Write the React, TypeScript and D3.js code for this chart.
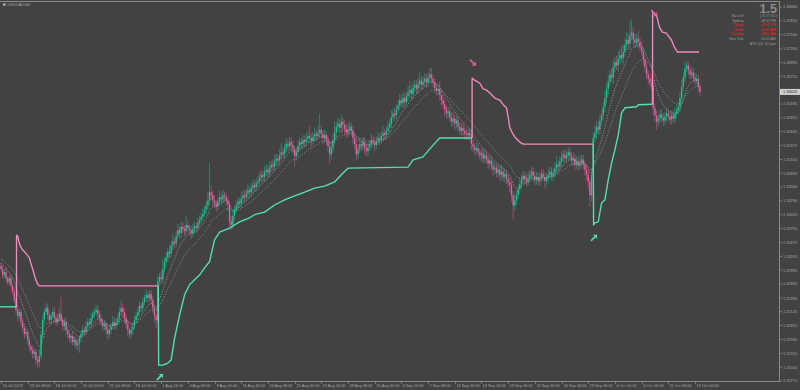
import React from "react";
import * as d3 from "d3";

const W = 800;
const H = 390;

// ---- price data (pips above 1.30000, H4 bars) ----
const firstOpen = 302;
const closes = [
  296, 284, 290, 278, 270, 278, 263, 251, 235, 216, 204, 212, 192, 181, 169, 173, 157, 145, 138, 130,
  134, 118, 114, 126, 167, 196, 212, 220, 206, 196, 204, 212, 200, 192, 200, 208, 196, 184, 192, 177,
  169, 161, 165, 153, 157, 147, 151, 161, 169, 177, 173, 184, 192, 188, 200, 208, 212, 216, 208, 200,
  192, 184, 188, 177, 169, 177, 184, 192, 186, 192, 200, 212, 220, 212, 200, 188, 177, 169, 177, 184,
  196, 204, 212, 224, 220, 231, 239, 245, 239, 247, 235, 220, 204, 196, 272, 280, 276, 296, 310, 318,
  330, 326, 342, 350, 346, 360, 372, 366, 378, 374, 370, 382, 376, 372, 366, 374, 380, 376, 386, 392,
  398, 404, 412, 420, 430, 446, 440, 430, 424, 418, 428, 436, 432, 440, 436, 430, 422, 390, 382, 400,
  412, 420, 428, 424, 434, 440, 436, 444, 450, 446, 454, 460, 456, 464, 468, 474, 480, 476, 486, 490,
  484, 494, 500, 496, 506, 512, 508, 518, 524, 520, 532, 540, 536, 544, 538, 530, 516, 524, 536, 544,
  540, 548, 544, 550, 556, 552, 546, 554, 560, 556, 562, 568, 560, 552, 558, 548, 536, 520, 532, 548,
  562, 574, 580, 572, 584, 578, 570, 562, 568, 574, 566, 552, 540, 520, 530, 540, 536, 544, 532, 526,
  534, 540, 548, 544, 538, 546, 552, 548, 556, 562, 558, 566, 572, 580, 592, 600, 596, 608, 616, 626,
  620, 630, 622, 634, 640, 646, 638, 650, 656, 648, 658, 664, 656, 662, 668, 660, 670, 676, 668, 660,
  650, 644, 648, 636, 626, 618, 608, 600, 604, 592, 584, 590, 580, 586, 574, 566, 572, 566, 560, 558,
  562, 556, 540, 534, 528, 532, 524, 518, 522, 512, 518, 510, 502, 508, 498, 490, 494, 484, 490, 480,
  486, 476, 482, 472, 466, 460, 440, 420, 430, 440, 452, 462, 470, 478, 472, 466, 474, 480, 486, 478,
  470, 476, 468, 474, 482, 476, 468, 474, 480, 486, 478, 484, 492, 500, 496, 506, 514, 520, 512, 518,
  524, 516, 508, 512, 500, 506, 498, 504, 510, 500, 490, 480, 466, 440, 480, 552, 562, 574, 568, 586,
  596, 612, 630, 648, 662, 676, 670, 690, 700, 694, 706, 714, 708, 720, 734, 744, 736, 752, 758, 744,
  738, 746, 740, 730, 722, 706, 690, 676, 668, 660, 654, 610, 596, 584, 590, 598, 592, 586, 594, 600,
  594, 588, 596, 590, 600, 606, 612, 630, 652, 670, 688, 694, 684, 676, 680, 670, 664, 668, 652, 642,
];
const wickUp = [
  6, 8, 5, 9, 4, 7, 6, 5, 8, 6, 9, 7, 5, 6, 8, 10, 5, 7, 6, 8,
  7, 5, 9, 14, 8, 12, 6, 10, 7, 9, 6, 8, 10, 7, 9, 12, 33, 6, 9, 7,
  6, 8, 5, 9, 7, 6, 8, 5, 7, 9, 6, 10, 8, 7, 9, 6, 8, 10, 9, 7,
  8, 6, 9, 5, 7, 8, 6, 12, 9, 7, 8, 10, 15, 8, 6, 9, 7, 5, 8, 6,
  9, 7, 8, 10, 6, 9, 7, 12, 8, 6, 9, 7, 5, 6, 10, 8, 12, 20, 9, 11,
  8, 12, 9, 14, 7, 10, 12, 8, 10, 9, 7, 18, 8, 6, 9, 10, 8, 7, 10, 9,
  8, 10, 7, 9, 16, 57, 12, 8, 10, 7, 9, 14, 8, 10, 7, 9, 8, 6, 10, 12,
  8, 10, 9, 7, 12, 8, 10, 9, 14, 8, 10, 12, 9, 8, 10, 12, 9, 8, 11, 10,
  9, 12, 8, 10, 14, 9, 8, 12, 18, 9, 10, 12, 8, 10, 9, 8, 7, 10, 12, 9,
  8, 10, 9, 12, 8, 20, 9, 10, 12, 8, 14, 32, 9, 8, 10, 7, 9, 8, 12, 14,
  22, 10, 12, 9, 14, 8, 10, 9, 12, 10, 8, 9, 7, 10, 9, 12, 8, 10, 9, 8,
  9, 10, 12, 8, 9, 10, 12, 9, 10, 14, 8, 10, 12, 10, 14, 9, 12, 10, 9, 12,
  10, 12, 9, 10, 14, 18, 9, 12, 10, 9, 12, 16, 9, 10, 12, 9, 10, 12, 14, 9,
  8, 10, 9, 15, 8, 10, 9, 7, 10, 8, 9, 12, 8, 10, 9, 8, 10, 9, 8, 10,
  9, 8, 12, 9, 8, 10, 9, 8, 10, 9, 12, 8, 9, 10, 8, 9, 10, 8, 12, 9,
  14, 9, 10, 8, 9, 10, 8, 9, 12, 10, 8, 12, 10, 9, 8, 10, 12, 9, 10, 8,
  9, 10, 8, 12, 9, 10, 8, 9, 12, 10, 9, 10, 12, 16, 9, 10, 12, 9, 10, 8,
  10, 9, 8, 12, 9, 10, 8, 14, 9, 10, 8, 9, 10, 8, 12, 10, 14, 12, 10, 12,
  10, 12, 14, 10, 12, 9, 12, 14, 10, 12, 16, 12, 20, 14, 12, 16, 12, 27, 25, 10,
  12, 10, 14, 9, 10, 8, 9, 10, 8, 9, 10, 8, 9, 10, 8, 9, 10, 8, 9, 10,
  8, 10, 9, 8, 10, 9, 10, 12, 14, 10, 12, 9, 8, 10, 9, 8, 10, 9, 8, 7,
];
const wickDn = [
  5, 7, 6, 8, 5, 6, 9, 7, 6, 8, 10, 6, 8, 7, 9, 6, 8, 10, 7, 9,
  8, 10, 12, 9, 6, 8, 7, 6, 9, 7, 8, 6, 9, 7, 8, 6, 7, 9, 8, 10,
  9, 8, 10, 7, 9, 8, 10, 19, 8, 7, 9, 6, 8, 7, 6, 8, 7, 6, 9, 8,
  7, 9, 8, 10, 12, 8, 7, 6, 9, 8, 7, 6, 8, 9, 10, 8, 12, 9, 7, 8,
  6, 8, 7, 6, 9, 7, 6, 8, 9, 7, 8, 10, 12, 15, 8, 9, 10, 8, 7, 9,
  8, 10, 7, 9, 10, 8, 7, 10, 9, 8, 10, 7, 9, 10, 12, 8, 9, 10, 8, 7,
  8, 9, 7, 10, 8, 9, 10, 12, 9, 10, 8, 9, 10, 8, 9, 10, 12, 18, 10, 8,
  9, 8, 10, 9, 8, 10, 9, 8, 10, 9, 8, 10, 9, 8, 10, 9, 8, 10, 9, 8,
  10, 9, 8, 10, 9, 8, 10, 9, 8, 10, 9, 8, 10, 9, 12, 10, 20, 9, 8, 10,
  9, 8, 10, 9, 8, 10, 12, 8, 9, 10, 8, 9, 10, 12, 9, 10, 12, 18, 10, 9,
  8, 9, 10, 8, 9, 10, 12, 9, 8, 10, 9, 12, 10, 11, 9, 8, 10, 9, 12, 10,
  9, 8, 10, 9, 12, 8, 9, 10, 8, 9, 10, 8, 9, 10, 8, 9, 10, 8, 9, 10,
  8, 9, 10, 8, 9, 10, 12, 9, 8, 10, 9, 8, 10, 9, 8, 10, 9, 8, 10, 9,
  10, 9, 8, 12, 10, 9, 14, 10, 9, 8, 10, 9, 12, 10, 9, 8, 10, 9, 12, 10,
  9, 10, 12, 9, 10, 8, 9, 10, 12, 9, 10, 8, 12, 9, 10, 12, 9, 10, 8, 12,
  10, 9, 12, 10, 9, 14, 12, 28, 10, 9, 8, 10, 9, 8, 10, 9, 8, 10, 9, 12,
  10, 9, 8, 10, 9, 8, 14, 9, 10, 8, 9, 10, 8, 9, 10, 8, 9, 10, 8, 9,
  10, 8, 9, 10, 12, 9, 10, 8, 9, 10, 12, 10, 14, 23, 12, 10, 9, 12, 10, 9,
  10, 12, 9, 10, 12, 10, 9, 12, 10, 9, 12, 10, 9, 12, 10, 9, 12, 10, 9, 12,
  10, 9, 12, 10, 9, 12, 10, 9, 12, 10, 9, 14, 12, 16, 10, 9, 8, 10, 9, 10,
  8, 9, 10, 8, 9, 10, 8, 9, 10, 8, 9, 8, 10, 9, 8, 10, 9, 8, 9, 8,
];

// moving averages (dotted), seeds read at the left edge
const maFastPeriod = 10;
const maSlowPeriod = 21;
const maFastSeed = 310;
const maSlowSeed = 318;

// trailing stop lines: [bar index, pips]
const greenSegments: number[][][] = [
  [[-0.6, 222], [9.3, 222]],
  [[94.3, 263], [94.5, 108], [97, 108], [100, 112], [102, 118], [104, 160], [107, 205], [110, 245], [113, 265],
   [119, 284], [122, 298], [125, 310], [128, 353], [131, 368], [137, 376], [143, 388], [149, 396], [152, 402],
   [158, 407], [164, 421], [170, 431], [176, 439], [182, 446], [188, 454], [194, 458], [200, 466], [204, 480],
   [208, 493], [244, 495], [247, 509], [253, 515], [259, 538], [263, 552], [282.4, 552]],
  [[355, 540], [355.2, 382], [356, 386], [358, 388], [360, 425], [362, 431], [364, 470], [366, 503], [368, 529],
   [370, 558], [372, 601], [374, 611], [381, 613], [382, 617], [390.5, 618]],
];
const pinkSegments: number[][][] = [
  [[9.3, 222], [9.3, 362], [10, 360], [11, 346], [12, 338], [13, 333], [14, 330], [16, 322], [17, 318], [18, 306],
   [19, 296], [20, 284], [21, 274], [22, 266], [23, 263], [94.3, 263]],
  [[282.4, 552], [282.4, 669], [284, 665], [287, 659], [289, 648], [291, 646], [293, 640], [296, 630], [299, 626],
   [301, 617], [303, 611], [304, 593], [305, 572], [306.5, 562], [308, 554], [311, 544], [313, 540], [355, 540]],
  [[390.5, 618], [390.6, 798], [393, 792], [394.6, 769], [396.4, 759], [398.8, 757], [401.8, 744], [403.6, 730],
   [405.4, 720], [418.4, 720]],
];
const upArrows = [[95.3, 85], [355.5, 357]];
const downArrows = [[282.9, 699], [391.5, 796]];

// axis labels
const priceTicks = [
  "1.38080", "1.37810", "1.37540", "1.37260", "1.36995", "1.36725", "1.36455", "1.36185", "1.35915", "1.35645",
  "1.35375", "1.35100", "1.34830", "1.34560", "1.34290", "1.34020", "1.33750", "1.33475", "1.33205", "1.32935",
  "1.32665", "1.32390", "1.32125", "1.31855", "1.31580", "1.31310", "1.31040", "1.30770",
];
const timeLabels = [
  "10 Jul 2023", "13 Jul 08:00", "18 Jul 00:00", "20 Jul 16:00", "25 Jul 08:00", "28 Jul 00:00", "1 Aug 16:00",
  "4 Aug 08:00", "9 Aug 00:00", "11 Aug 16:00", "16 Aug 08:00", "21 Aug 00:00", "23 Aug 16:00", "28 Aug 08:00",
  "31 Aug 00:00", "4 Sep 16:00", "7 Sep 08:00", "12 Sep 00:00", "14 Sep 16:00", "19 Sep 08:00", "22 Sep 00:00",
  "26 Sep 16:00", "29 Sep 08:00", "4 Oct 00:00", "6 Oct 16:00", "11 Oct 08:00", "16 Oct 00:00",
];
const barsPerTimeLabel = 16;

const chartTitle = "USDCAD,H4";
const bigNumber = "1.5";
const infoLabels = ["Bar Left", "Sydney", "* Tokyo", "* Berlin", "* London", "New York"];
const infoValues = ["[ 01:57:32 ]", "08:02 PM", "04:02 PM", "09:02 AM", "08:02 AM", "03:02 AM"];
const infoActive = [false, false, true, true, true, false];
const atrText = "ATR (20): 62 pips";

// ---- styling ----
const BG = "#424242";
const AXIS = "#8a8a8a";
const TXT = "#a8a8a8";
const BULL = "#22c495";
const BEAR = "#e5609f";
const GREEN_LINE = "#52e2b6";
const PINK_LINE = "#f58bbe";
const FONT = "Liberation Sans, Arial, sans-serif";

const toPrice = (p: number) => 1.3 + p / 10000;

export default function App() {
  const plotRight = 779;
  const plotBottom = 381;
  const y = d3.scaleLinear().domain([1.3077, 1.3808]).range([plotBottom, 7]);
  const x = d3.scaleLinear().domain([0, 416]).range([1, 695]);

  const candles = closes.map((c, i) => {
    const o = i === 0 ? firstOpen : closes[i - 1];
    const hi = Math.max(o, c) + wickUp[i];
    const lo = Math.min(o, c) - wickDn[i];
    return { i, o, c, hi, lo };
  });

  const ema = (period: number, seed: number) => {
    const k = 2 / (period + 1);
    let v = seed;
    return closes.map((c, i) => {
      v = v + k * (c - v);
      return [i, v];
    });
  };
  const maFast = ema(maFastPeriod, maFastSeed);
  const maSlow = ema(maSlowPeriod, maSlowSeed);

  const line = d3
    .line<number[]>()
    .x((d) => x(d[0]))
    .y((d) => y(toPrice(d[1])));

  const last = closes[closes.length - 1];
  const lastY = y(toPrice(last));

  return (
    <div style={{ position: "fixed", left: 0, top: 0 }}>
      <svg width={W} height={H} style={{ display: "block", background: BG }}>
        <defs>
          <clipPath id="plot">
            <rect x={0} y={2} width={plotRight} height={plotBottom - 2} />
          </clipPath>
        </defs>
        <rect x={0} y={0} width={W} height={H} fill={BG} />

        <g clipPath="url(#plot)">
          {/* candles */}
          {candles.map((d) => {
            const cx = x(d.i);
            const bull = d.c >= d.o;
            const col = bull ? BULL : BEAR;
            const yTop = y(toPrice(Math.max(d.o, d.c)));
            const yBot = y(toPrice(Math.min(d.o, d.c)));
            return (
              <g key={d.i}>
                <line
                  x1={cx}
                  x2={cx}
                  y1={y(toPrice(d.hi))}
                  y2={y(toPrice(d.lo))}
                  stroke={col}
                  strokeWidth={0.9}
                  strokeOpacity={0.55}
                />
                <rect x={cx - 0.65} width={1.3} y={yTop} height={Math.max(1, yBot - yTop)} fill={col} />
              </g>
            );
          })}

          {/* moving averages */}
          <path d={line(maSlow) || ""} fill="none" stroke="#a0a0a0" strokeWidth={0.8} strokeDasharray="1 1.6" />
          <path d={line(maFast) || ""} fill="none" stroke="#b0b0b0" strokeWidth={0.8} strokeDasharray="1 1.6" />

          {/* trailing lines */}
          {greenSegments.map((s, k) => (
            <path key={"g" + k} d={line(s) || ""} fill="none" stroke={GREEN_LINE} strokeWidth={1.35} strokeLinejoin="round" />
          ))}
          {pinkSegments.map((s, k) => (
            <path key={"p" + k} d={line(s) || ""} fill="none" stroke={PINK_LINE} strokeWidth={1.35} strokeLinejoin="round" />
          ))}

          {/* arrows */}
          {upArrows.map((a, k) => (
            <g key={"ua" + k} transform={`translate(${x(a[0])},${y(toPrice(a[1]))})`}>
              <path d="M-3,3 L1,-1" stroke={GREEN_LINE} strokeWidth={1.7} />
              <path d="M3,-3 L3,1.2 L-1.2,-3 Z" fill={GREEN_LINE} />
            </g>
          ))}
          {downArrows.map((a, k) => (
            <g key={"da" + k} transform={`translate(${x(a[0])},${y(toPrice(a[1]))})`}>
              <path d="M-3,-3 L1,1" stroke={BEAR} strokeWidth={1.7} />
              <path d="M3,3 L3,-1.2 L-1.2,3 Z" fill={BEAR} />
            </g>
          ))}
        </g>

        {/* frame / axes */}
        <line x1={0} x2={plotRight} y1={1.5} y2={1.5} stroke={AXIS} strokeWidth={1} />
        <line x1={plotRight + 0.5} x2={plotRight + 0.5} y1={1} y2={plotBottom + 1} stroke={AXIS} strokeWidth={1} />
        <line x1={0} x2={plotRight + 1} y1={plotBottom + 0.5} y2={plotBottom + 0.5} stroke={AXIS} strokeWidth={1} />

        {/* price axis */}
        {priceTicks.map((t) => {
          const ty = y(parseFloat(t));
          const hidden = Math.abs(ty - lastY) < 5;
          return (
            <g key={t}>
              <line x1={plotRight} x2={plotRight + 3} y1={ty} y2={ty} stroke={AXIS} strokeWidth={0.8} />
              {!hidden && (
                <text x={plotRight + 4} y={ty + 1.4} fill={TXT} fontSize={3.9} fontFamily={FONT}>
                  {t}
                </text>
              )}
            </g>
          );
        })}
        <rect x={plotRight + 1} y={lastY - 3} width={W - plotRight - 1} height={6} fill="#d0d0d0" />
        <text x={plotRight + 4} y={lastY + 1.4} fill="#202020" fontSize={3.9} fontFamily={FONT}>
          {toPrice(last).toFixed(5)}
        </text>

        {/* time axis */}
        {timeLabels.map((t, k) => {
          const tx = Math.round(x(k * barsPerTimeLabel)) + 0.5;
          return (
            <g key={t}>
              <line x1={tx} x2={tx} y1={plotBottom} y2={plotBottom + 3} stroke={AXIS} strokeWidth={0.8} />
              <text x={tx + 1} y={386.6} fill={TXT} fontSize={3.9} fontFamily={FONT}>
                {t}
              </text>
            </g>
          );
        })}

        {/* title */}
        <rect x={3} y={3.5} width={2.5} height={2} fill="#bdbdbd" />
        <text x={7.5} y={6} fill={TXT} fontSize={3.9} fontFamily={FONT}>
          {chartTitle}
        </text>

        {/* info panel */}
        <text x={777} y={12.5} textAnchor="end" fill="#8c8c8c" fontSize={12.5} fontWeight="bold" fontFamily={FONT}>
          {bigNumber}
        </text>
        {infoLabels.map((l, k) => {
          const ry = 17 + k * 4.6;
          const col = infoActive[k] ? "#ff2020" : "#9a9a9a";
          return (
            <g key={l}>
              <text x={743.5} y={ry} textAnchor="end" fill={col} fontSize={3.4} fontFamily={FONT}>
                {l}
              </text>
              <text x={768.5} y={ry} textAnchor="middle" fill={col} fontSize={3.4} fontFamily={FONT}>
                {infoValues[k]}
              </text>
            </g>
          );
        })}
        <text x={776} y={17 + 6 * 4.6} textAnchor="end" fill="#9a9a9a" fontSize={3.4} fontFamily={FONT}>
          {atrText}
        </text>
      </svg>
    </div>
  );
}
